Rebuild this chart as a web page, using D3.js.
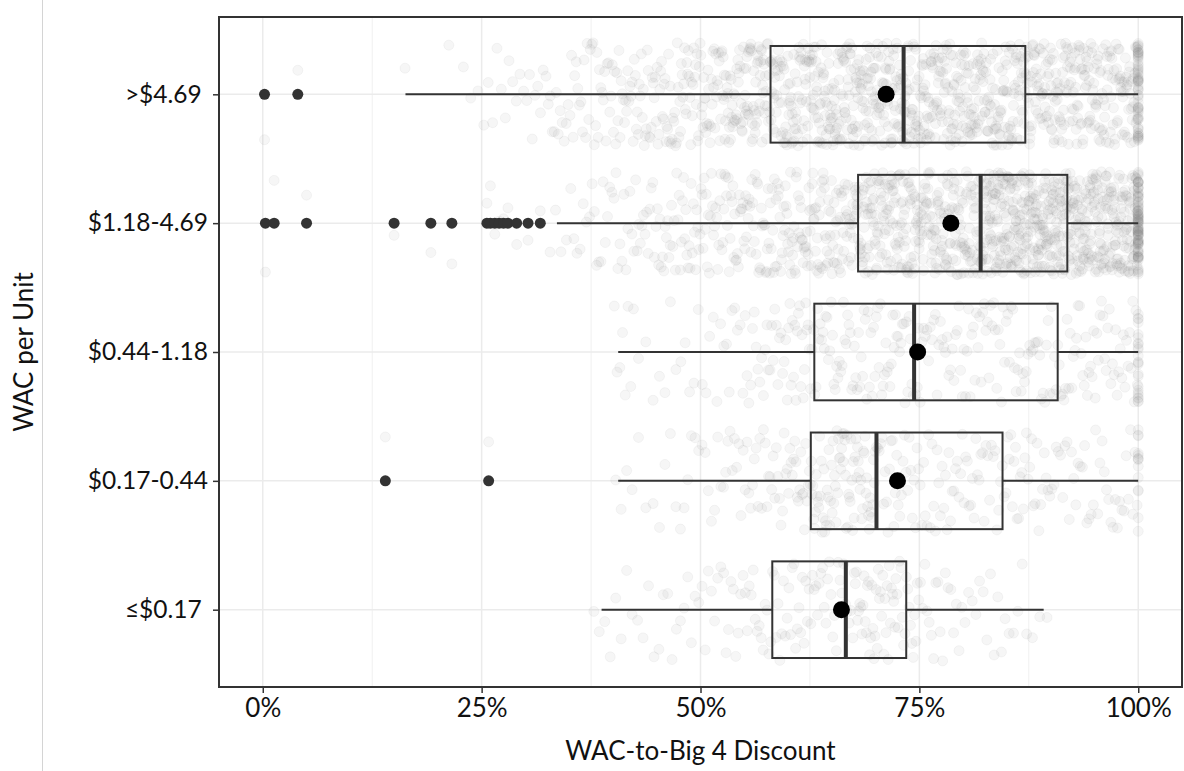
<!DOCTYPE html>
<html>
<head>
<meta charset="utf-8">
<script src="https://cdn.jsdelivr.net/npm/d3@7"></script>
<style>
  html, body { margin: 0; padding: 0; background: #fff; }
  svg { display: block; font-family: Lato, "Open Sans", sans-serif; }
</style>
</head>
<body>
<svg id="chart" width="1184" height="771"></svg>
<script>
// WAC price bands (top to bottom)
const categories = [">$4.69 ", "$1.18-4.69", "$0.44-1.18", "$0.17-0.44", "≤$0.17 "];

// Box-plot summaries, discount in percent
const lowerWhisker = [16.3, 33.6, 40.6, 40.6, 38.7];
const q1           = [58.0, 68.0, 63.0, 62.6, 58.2];
const median       = [73.2, 82.0, 74.4, 70.1, 66.6];
const q3           = [87.1, 91.9, 90.8, 84.5, 73.5];
const upperWhisker = [100, 100, 100, 100, 89.2];
const means        = [71.2, 78.6, 74.8, 72.5, 66.1];

// Outlying observations per band
const outliers = [
  [0.2, 4.0],
  [0.3, 1.3, 5.0, 15.0, 19.2, 21.6, 25.6, 26.0, 26.5, 27.0, 27.5, 28.0, 29.0, 30.3, 31.7],
  [],
  [14.0, 25.8],
  []
];

// Number of products per 2.5% discount bin (0-2.5, 2.5-5, ... 97.5-100), last entry = exactly 100%
const countsOver469  = [0,0,0,0,0,0,1,0,1,3,5,6,8,11,14,17,20,22,25,28,31,39,45,42,45,48,50,50,48,48,48,48,48,45,45,45,45,45,42,42,62];
const counts118to469 = [0,0,0,0,0,0,0,0,0,0,0,0,0,4,7,10,11,14,17,20,21,24,25,28,31,34,36,50,50,50,50,50,50,76,76,76,76,70,70,70,94];
const counts044to118 = [0,0,0,0,0,0,0,0,0,0,0,0,0,0,0,0,8,3,4,5,6,8,12,14,18,16,16,16,16,16,13,13,14,14,13,13,14,14,14,14,24];
const counts017to044 = [0,0,0,0,0,0,0,0,0,0,0,0,0,0,0,0,4,3,4,6,7,10,12,14,18,26,28,26,15,14,13,13,13,12,14,12,10,10,10,10,14];
const countsUpTo017  = [0,0,0,0,0,0,0,0,0,0,0,0,0,0,0,4,4,4,5,6,7,9,11,12,13,13,12,20,20,16,10,8,6,6,5,3,0,0,0,0,0];
const binCounts = [countsOver469, counts118to469, counts044to118, counts017to044, countsUpTo017];
const binWidth = 2.5;

const xTicks = [0, 25, 50, 75, 100];
const xMinorTicks = [12.5, 37.5, 62.5, 87.5];

const svg = d3.select("#chart");
const W = 1184, H = 771;
const panel = { left: 219, right: 1182, top: 17, bottom: 687 };
const ink = "#333333";
const textInk = "#111111";

const x = d3.scaleLinear().domain([-5, 105]).range([panel.left, panel.right]);
const y = d3.scalePoint().domain(categories).range([panel.top, panel.bottom]).padding(0.6);
const step = y.step();
const boxHalf = step * 0.375;
const jitterHalf = step * 0.4;

// vertical jitter offset in [-1, 1], deterministic per point index
function jitter(n) {
  let h = Math.imul(n ^ 0x9e3779b9, 0x85ebca6b);
  h ^= h >>> 13;
  h = Math.imul(h, 0xc2b2ae35);
  h ^= h >>> 16;
  return (h >>> 0) / 4294967296 * 2 - 1;
}

// thin divider at the far left
svg.append("line")
  .attr("x1", 42.5).attr("x2", 42.5).attr("y1", 0).attr("y2", H)
  .attr("stroke", "#d4d4d4").attr("stroke-width", 1);

// grid
const grid = svg.append("g");
grid.selectAll("line.minor").data(xMinorTicks).join("line")
  .attr("class", "minor")
  .attr("x1", d => x(d)).attr("x2", d => x(d))
  .attr("y1", panel.top).attr("y2", panel.bottom)
  .attr("stroke", "#f0f0f0").attr("stroke-width", 1);
grid.selectAll("line.majorx").data(xTicks).join("line")
  .attr("class", "majorx")
  .attr("x1", d => x(d)).attr("x2", d => x(d))
  .attr("y1", panel.top).attr("y2", panel.bottom)
  .attr("stroke", "#ebebeb").attr("stroke-width", 1.5);
grid.selectAll("line.majory").data(categories).join("line")
  .attr("class", "majory")
  .attr("x1", panel.left).attr("x2", panel.right)
  .attr("y1", d => y(d)).attr("y2", d => y(d))
  .attr("stroke", "#ebebeb").attr("stroke-width", 1.5);

// individual products: each bin's products spread evenly across the bin, jittered vertically
let seq = 0;
const cloud = [];
categories.forEach((cat, ci) => {
  const counts = binCounts[ci];
  counts.forEach((n, b) => {
    for (let j = 0; j < n; j++) {
      seq++;
      const val = b === counts.length - 1 ? 100 : b * binWidth + (j + 0.5) / n * binWidth;
      cloud.push({ cat, val, off: jitter(seq) * jitterHalf });
    }
  });
  outliers[ci].forEach(val => {
    seq++;
    cloud.push({ cat, val, off: jitter(seq) * jitterHalf });
  });
});

svg.append("g").selectAll("circle").data(cloud).join("circle")
  .attr("cx", d => x(d.val))
  .attr("cy", d => y(d.cat) + d.off)
  .attr("r", 5)
  .attr("fill", "#7f7f7f").attr("fill-opacity", 0.07)
  .attr("stroke", "#7f7f7f").attr("stroke-opacity", 0.07).attr("stroke-width", 1);

// box plots
const stats = categories.map((cat, i) => ({
  cat, lo: lowerWhisker[i], q1: q1[i], med: median[i], q3: q3[i], hi: upperWhisker[i], mean: means[i]
}));
const boxes = svg.append("g").selectAll("g").data(stats).join("g");
boxes.append("line")
  .attr("x1", d => x(d.lo)).attr("x2", d => x(d.q1))
  .attr("y1", d => y(d.cat)).attr("y2", d => y(d.cat))
  .attr("stroke", ink).attr("stroke-width", 2);
boxes.append("line")
  .attr("x1", d => x(d.q3)).attr("x2", d => x(d.hi))
  .attr("y1", d => y(d.cat)).attr("y2", d => y(d.cat))
  .attr("stroke", ink).attr("stroke-width", 2);
boxes.append("rect")
  .attr("x", d => x(d.q1)).attr("width", d => x(d.q3) - x(d.q1))
  .attr("y", d => y(d.cat) - boxHalf).attr("height", boxHalf * 2)
  .attr("fill", "none").attr("stroke", ink).attr("stroke-width", 2);
boxes.append("line")
  .attr("x1", d => x(d.med)).attr("x2", d => x(d.med))
  .attr("y1", d => y(d.cat) - boxHalf).attr("y2", d => y(d.cat) + boxHalf)
  .attr("stroke", ink).attr("stroke-width", 4);

// outliers
const outPts = [];
categories.forEach((cat, i) => outliers[i].forEach(v => outPts.push({ cat, v })));
svg.append("g").selectAll("circle").data(outPts).join("circle")
  .attr("cx", d => x(d.v)).attr("cy", d => y(d.cat))
  .attr("r", 5.5).attr("fill", ink);

// means
svg.append("g").selectAll("circle").data(stats).join("circle")
  .attr("cx", d => x(d.mean)).attr("cy", d => y(d.cat))
  .attr("r", 8.5).attr("fill", "#000");

// panel border
svg.append("rect")
  .attr("x", panel.left).attr("y", panel.top)
  .attr("width", panel.right - panel.left).attr("height", panel.bottom - panel.top)
  .attr("fill", "none").attr("stroke", ink).attr("stroke-width", 2);

// axes
const xAxis = svg.append("g")
  .attr("transform", `translate(0,${panel.bottom})`)
  .call(d3.axisBottom(x).tickValues(xTicks).tickFormat(d => d + "%").tickSize(6).tickPadding(6));
const yAxis = svg.append("g")
  .attr("transform", `translate(${panel.left},0)`)
  .call(d3.axisLeft(y).tickSize(6).tickPadding(5));
[xAxis, yAxis].forEach(g => {
  g.select(".domain").remove();
  g.selectAll(".tick line").attr("stroke", ink).attr("stroke-width", 1.5);
  g.selectAll(".tick text")
    .attr("font-family", "Lato, 'Open Sans', sans-serif")
    .attr("fill", textInk)
    .style("white-space", "pre");
});
xAxis.selectAll(".tick text").attr("font-size", 26);
yAxis.selectAll(".tick text").attr("font-size", 24.5);

// axis titles
svg.append("text")
  .attr("x", (panel.left + panel.right) / 2).attr("y", 760)
  .attr("text-anchor", "middle")
  .attr("font-size", 26).attr("fill", textInk)
  .text("WAC-to-Big 4 Discount");
svg.append("text")
  .attr("transform", `translate(33,${(panel.top + panel.bottom) / 2}) rotate(-90)`)
  .attr("text-anchor", "middle")
  .attr("font-size", 26).attr("fill", textInk)
  .text("WAC per Unit");
</script>
</body>
</html>
